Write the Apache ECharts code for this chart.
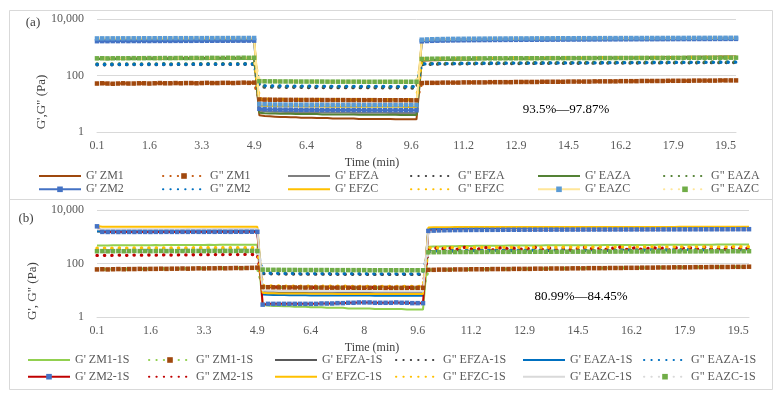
<!DOCTYPE html>
<html lang="en">
<head>
    <meta charset="UTF-8">
    <title>G' / G" recovery</title>
    <script src="https://cdn.jsdelivr.net/npm/echarts@6/dist/echarts.min.js"></script>
    <style>
        html, body { margin: 0; padding: 0; background: #fff; }
        #chart { width: 781px; height: 400px; }
    </style>
</head>
<body>
    <div id="chart"></div>

    <script>
        // 时间 (min) —— 类目轴
        const timeMin = [
            '0.1','0.3','0.4','0.6','0.7','0.9','1.0','1.2','1.3','1.5','1.6',
            '1.8','1.9','2.1','2.3','2.5','2.6','2.8','3.0','3.1','3.3',
            '3.5','3.6','3.8','3.9','4.1','4.3','4.4','4.6','4.7','4.9',
            '5.1','5.2','5.4','5.5','5.7','5.8','6.0','6.1','6.3','6.4',
            '6.6','6.7','6.9','7.0','7.2','7.4','7.5','7.7','7.8','8',
            '8.2','8.3','8.5','8.6','8.8','9.0','9.1','9.3','9.4','9.6',
            '9.8','9.9','10.1','10.2','10.4','10.6','10.7','10.9','11.0','11.2',
            '11.4','11.5','11.7','11.9','12.1','12.2','12.4','12.6','12.7','12.9',
            '13.1','13.2','13.4','13.5','13.7','13.9','14.0','14.2','14.3','14.5',
            '14.7','14.8','15.0','15.2','15.4','15.5','15.7','15.9','16.0','16.2',
            '16.4','16.5','16.7','16.9','17.1','17.2','17.4','17.6','17.7','17.9',
            '18.1','18.2','18.4','18.5','18.7','18.9','19.0','19.2','19.3','19.5',
            '19.7','19.8'
        ];

        // ---------- (a) ----------
        const gpZM1 = [
            395,398,400,402,401,404,405,403,406,408,407,409,410,411,410,412,413,412,414,415,414,416,417,416,418,419,418,420,421,420,422,
            3.9,3.7,3.6,3.5,3.4,3.4,3.3,3.3,3.2,3.2,3.2,3.1,3.1,3.1,3.0,3.0,3.0,3.0,3.0,2.9,2.9,2.9,2.9,2.9,2.9,2.9,2.8,2.8,2.8,2.8,2.8,
            330,338,344,350,355,359,363,366,369,372,375,377,380,382,384,386,388,390,392,394,396,398,400,402,404,406,408,410,412,414,
            416,418,420,422,424,426,428,430,432,434,436,438,440,442,444,446,448,450,452,454,455,457,458,460,461,463,464,466,467,469,470
        ];
        const gppZM1 = [
            52,53,52,51,52,53,52,52,53,53,52,53,54,53,53,54,53,54,54,53,54,55,54,54,55,55,54,55,56,55,56,
            14.2,14.0,13.9,13.8,13.8,13.7,13.7,13.7,13.6,13.6,13.6,13.6,13.5,13.5,13.5,13.5,13.5,13.4,13.4,13.4,13.4,13.4,13.4,13.3,13.3,13.3,13.3,13.3,13.3,13.2,13.2,
            54,55,55,55,56,56,56,56,57,57,57,57,57,58,58,58,58,58,59,59,59,59,59,60,60,60,60,60,61,61,
            61,61,61,62,62,62,62,62,63,63,63,63,64,64,64,64,64,65,65,65,65,65,66,66,66,66,66,67,67,67,67
        ];
        const gpEFZA = [
            1850,1840,1855,1850,1860,1855,1850,1860,1865,1860,1855,1865,1870,1860,1865,1870,1875,1870,1865,1875,1880,1875,1870,1880,1885,1880,1875,1885,1890,1885,1880,
            5.6,5.4,5.3,5.2,5.2,5.1,5.1,5.1,5.0,5.0,5.0,5.0,4.9,4.9,4.9,4.9,4.9,4.9,4.8,4.8,4.8,4.8,4.8,4.8,4.8,4.7,4.7,4.7,4.7,4.7,4.7,
            1650,1680,1700,1715,1725,1735,1745,1750,1760,1765,1770,1775,1780,1785,1790,1795,1800,1805,1808,1812,1815,1820,1825,1828,1832,1835,1840,1843,1846,1850,
            1853,1856,1860,1862,1865,1868,1870,1873,1876,1878,1880,1883,1885,1888,1890,1892,1895,1897,1900,1902,1904,1906,1908,1910,1912,1914,1916,1918,1920,1922,1924
        ];
        const gppEFZA = [
            240,242,238,241,243,240,242,244,241,243,245,242,244,246,243,245,247,244,246,248,245,247,249,246,248,250,247,249,251,248,250,
            40,39,39,38.5,38.5,38,38,38,38,37.5,37.5,37.5,37.5,37.5,37,37,37,37,37,37,37,37,36.5,36.5,36.5,36.5,36.5,36.5,36.5,36,36,
            245,248,250,252,254,255,256,257,258,259,260,261,262,262,263,264,264,265,266,266,267,267,268,268,269,269,270,270,271,271,
            272,272,273,273,274,274,275,275,276,276,277,277,278,278,279,279,280,280,281,281,282,282,283,283,284,284,285,285,286,286,287
        ];
        const gpEAZA = [
            380,382,378,381,383,380,384,382,385,383,386,384,387,385,388,386,389,387,390,388,391,389,392,390,393,391,394,392,395,393,396,
            4.8,4.6,4.5,4.5,4.4,4.4,4.4,4.3,4.3,4.3,4.3,4.3,4.2,4.2,4.2,4.2,4.2,4.2,4.2,4.1,4.1,4.1,4.1,4.1,4.1,4.1,4.1,4.0,4.0,4.0,4.0,
            350,356,360,364,367,369,371,373,375,377,378,380,381,383,384,385,386,388,389,390,391,392,393,394,395,396,397,398,399,400,
            401,402,403,404,405,406,407,408,409,410,411,412,413,414,415,416,417,418,419,420,421,422,423,424,425,426,427,428,429,430,431
        ];
        const gppEAZA = [
            255,257,253,256,258,255,257,259,256,258,260,257,259,261,258,260,262,259,261,263,260,262,264,261,263,265,262,264,266,263,265,
            43,42.5,42,42,42,41.5,41.5,41.5,41.5,41,41,41,41,41,41,40.5,40.5,40.5,40.5,40.5,40.5,40.5,40,40,40,40,40,40,40,40,40,
            262,265,267,269,270,271,272,273,274,275,276,277,278,278,279,280,280,281,282,282,283,283,284,284,285,285,286,286,287,287,
            288,288,289,289,290,290,291,291,292,292,293,293,294,294,295,295,296,296,297,297,298,298,299,299,300,300,301,301,302,302,303
        ];
        const gpZM2 = [
            1640,1650,1645,1655,1650,1660,1655,1665,1660,1670,1665,1675,1670,1680,1675,1685,1680,1690,1685,1695,1690,1700,1695,1705,1700,1710,1705,1715,1710,1720,1715,
            6.6,6.4,6.3,6.3,6.2,6.2,6.2,6.1,6.1,6.1,6.1,6.1,6.0,6.0,6.0,6.0,6.0,6.0,6.0,6.0,5.9,5.9,5.9,5.9,5.9,5.9,5.9,5.9,5.9,5.9,5.9,
            1620,1660,1690,1710,1725,1740,1750,1760,1770,1778,1785,1792,1798,1804,1810,1815,1820,1825,1830,1835,1840,1844,1848,1852,1856,1860,1864,1868,1872,1876,
            1880,1884,1888,1892,1896,1900,1904,1908,1912,1916,1920,1923,1926,1929,1932,1935,1938,1941,1944,1947,1950,1953,1956,1959,1962,1965,1968,1971,1974,1977,1980
        ];
        const gppZM2 = [
            245,247,243,246,248,245,247,249,246,248,250,247,249,251,248,250,252,249,251,253,250,252,254,251,253,255,252,254,256,253,255,
            44,43,43,42.5,42.5,42,42,42,42,42,41.5,41.5,41.5,41.5,41.5,41.5,41,41,41,41,41,41,41,41,41,40.5,40.5,40.5,40.5,40.5,40.5,
            255,258,260,262,263,264,265,266,267,268,269,270,271,271,272,273,273,274,275,275,276,276,277,277,278,278,279,279,280,280,
            281,281,282,282,283,283,284,284,285,285,286,286,287,287,288,288,289,289,290,290,291,291,292,292,293,293,294,294,295,295,296
        ];
        const gpEFZC = [
            1950,1945,1955,1950,1960,1955,1965,1960,1970,1965,1975,1970,1980,1975,1985,1980,1990,1985,1995,1990,2000,1995,2005,2000,2010,2005,2015,2010,2020,2015,2025,
            8.6,8.4,8.3,8.2,8.2,8.1,8.1,8.1,8.0,8.0,8.0,8.0,8.0,7.9,7.9,7.9,7.9,7.9,7.9,7.9,7.8,7.8,7.8,7.8,7.8,7.8,7.8,7.8,7.7,7.7,7.7,
            1780,1820,1850,1870,1885,1898,1908,1917,1925,1932,1938,1944,1950,1955,1960,1965,1970,1974,1978,1982,1986,1990,1994,1998,2002,2005,2008,2011,2014,2017,
            2020,2023,2026,2029,2032,2035,2038,2041,2044,2047,2050,2052,2054,2056,2058,2060,2062,2064,2066,2068,2070,2072,2074,2076,2078,2080,2082,2084,2086,2088,2090
        ];
        const gppEFZC = [
            400,402,398,401,403,400,404,402,405,403,406,404,407,405,408,406,409,407,410,408,411,409,412,410,413,411,414,412,415,413,416,
            14.8,14.6,14.5,14.4,14.4,14.3,14.3,14.3,14.2,14.2,14.2,14.2,14.1,14.1,14.1,14.1,14.1,14.0,14.0,14.0,14.0,14.0,14.0,14.0,13.9,13.9,13.9,13.9,13.9,13.9,13.9,
            385,390,394,397,399,401,403,405,406,408,409,410,411,412,413,414,415,416,417,418,419,420,420,421,422,422,423,424,424,425,
            426,426,427,428,428,429,430,430,431,432,432,433,434,434,435,436,436,437,438,438,439,440,440,441,442,442,443,444,444,445,446
        ];
        const gpEAZC = [
            2050,2060,2055,2065,2060,2070,2065,2075,2070,2080,2075,2085,2080,2090,2085,2095,2090,2100,2095,2105,2100,2110,2105,2115,2110,2120,2115,2125,2120,2130,2125,
            9.8,9.6,9.5,9.4,9.4,9.3,9.3,9.3,9.2,9.2,9.2,9.2,9.2,9.1,9.1,9.1,9.1,9.1,9.1,9.1,9.0,9.0,9.0,9.0,9.0,9.0,9.0,9.0,9.0,9.0,9.0,
            1850,1890,1920,1940,1955,1968,1978,1987,1995,2002,2008,2014,2020,2025,2030,2035,2040,2044,2048,2052,2056,2060,2064,2068,2072,2075,2078,2081,2084,2087,
            2090,2093,2096,2099,2102,2105,2108,2111,2114,2117,2120,2122,2124,2126,2128,2130,2132,2134,2136,2138,2140,2142,2144,2146,2148,2150,2152,2154,2156,2158,2160
        ];
        const gppEAZC = [
            405,408,404,407,410,406,409,412,408,411,414,410,413,416,412,415,418,414,417,420,416,419,422,418,421,424,420,423,426,422,425,
            63,62.5,62,62,61.5,61.5,61.5,61,61,61,61,61,61,60.5,60.5,60.5,60.5,60.5,60.5,60.5,60,60,60,60,60,60,60,60,60,60,60,
            385,389,392,394,396,397,398,399,400,401,402,403,403,404,405,405,406,406,407,407,408,408,409,409,410,410,411,411,412,412,
            413,413,414,414,415,415,416,416,417,417,418,418,419,419,420,420,421,421,422,422,423,423,424,424,425,425,426,426,427,427,428
        ];

        // ---------- (b) ----------
        const gpZM1_1S = [
            470,475,472,478,476,480,478,483,481,485,483,487,485,489,487,491,489,493,491,495,493,497,495,499,497,501,499,503,501,505,503,
            2.8,2.7,2.6,2.6,2.5,2.5,2.4,2.4,2.4,2.3,2.3,2.3,2.2,2.2,2.2,2.2,2.1,2.1,2.1,2.1,2.1,2.0,2.0,2.0,2.0,2.0,2.0,1.9,1.9,1.9,1.9,
            420,428,434,439,443,446,449,452,454,456,458,460,462,464,465,467,468,470,471,472,474,475,476,477,478,479,480,481,482,483,
            484,485,486,487,488,489,490,491,492,493,494,495,496,497,498,499,500,501,502,503,504,505,506,507,508,509,510,511,512,513,514
        ];
        const gppZM1_1S = [
            60,61,60,61,62,61,62,62,63,62,63,63,64,63,64,64,65,64,65,66,65,66,66,67,66,67,68,67,68,69,70,
            13.2,13.0,12.9,12.8,12.8,12.7,12.7,12.7,12.6,12.6,12.6,12.6,12.5,12.5,12.5,12.5,12.5,12.4,12.4,12.4,12.4,12.4,12.4,12.3,12.3,12.3,12.3,12.3,12.3,12.3,12.3,
            58,58,59,59,59,60,60,60,61,61,61,61,62,62,62,62,63,63,63,63,64,64,64,65,65,65,65,66,66,66,
            67,67,67,67,68,68,68,69,69,69,70,70,70,71,71,71,72,72,72,72,73,73,73,74,74,74,74,75,75,75,76
        ];
        const gpEFZA_1S = [
            1560,1550,1555,1545,1550,1555,1550,1560,1555,1550,1560,1555,1565,1560,1555,1565,1560,1570,1565,1560,1570,1565,1575,1570,1565,1575,1570,1580,1575,1570,1580,
            9.0,8.8,8.7,8.6,8.6,8.5,8.5,8.5,8.5,8.4,8.4,8.4,8.4,8.4,8.3,8.3,8.3,8.3,8.3,8.3,8.3,8.2,8.2,8.2,8.2,8.2,8.2,8.2,8.2,8.2,8.2,
            1800,1830,1850,1865,1875,1883,1890,1896,1900,1905,1908,1912,1915,1918,1921,1924,1926,1929,1931,1934,1936,1938,1940,1942,1944,1946,1948,1950,1952,1954,
            1956,1958,1960,1961,1963,1964,1966,1967,1969,1970,1972,1973,1975,1976,1978,1979,1981,1982,1984,1985,1987,1988,1990,1991,1993,1994,1996,1997,1999,2000,2002
        ];
        const gppEFZA_1S = [
            285,288,284,287,290,286,289,292,288,291,294,290,293,296,292,295,298,294,297,300,296,299,302,298,301,304,300,303,306,302,305,
            42,41.5,41,41,40.5,40.5,40.5,40,40,40,40,40,40,39.5,39.5,39.5,39.5,39.5,39.5,39.5,39,39,39,39,39,39,39,39,39,39,39,
            285,288,290,292,293,294,295,296,297,298,299,300,300,301,302,302,303,303,304,304,305,305,306,306,307,307,308,308,309,309,
            310,310,311,311,312,312,313,313,314,314,315,315,316,316,317,317,318,318,319,319,320,320,321,321,322,322,323,323,324,324,325
        ];
        const gpEAZA_1S = [
            1620,1610,1615,1605,1610,1615,1610,1620,1615,1610,1620,1615,1625,1620,1615,1625,1620,1630,1625,1620,1630,1625,1635,1630,1625,1635,1630,1640,1635,1630,1640,
            7.0,6.8,6.7,6.6,6.6,6.5,6.5,6.5,6.5,6.4,6.4,6.4,6.4,6.4,6.3,6.3,6.3,6.3,6.3,6.3,6.3,6.2,6.2,6.2,6.2,6.2,6.2,6.2,6.2,6.2,6.2,
            1950,1975,1990,2000,2008,2014,2019,2023,2027,2030,2033,2036,2038,2040,2042,2044,2046,2048,2050,2052,2053,2055,2056,2058,2059,2060,2062,2063,2064,2066,
            2067,2068,2069,2070,2072,2073,2074,2075,2076,2077,2078,2079,2080,2081,2082,2083,2084,2085,2086,2087,2088,2089,2090,2091,2092,2093,2094,2095,2096,2097,2098
        ];
        const gppEAZA_1S = [
            325,328,324,327,330,326,329,332,328,331,334,330,333,336,332,335,338,334,337,340,336,339,342,338,341,344,340,343,346,342,345,
            44,43.5,43,43,42.5,42.5,42.5,42,42,42,42,42,42,41.5,41.5,41.5,41.5,41.5,41.5,41.5,41,41,41,41,41,41,41,41,41,41,41,
            300,303,305,307,308,309,310,311,312,313,314,315,315,316,317,317,318,318,319,319,320,320,321,321,322,322,323,323,324,324,
            325,325,326,326,327,327,328,328,329,329,330,330,331,331,332,332,333,333,334,334,335,335,336,336,337,337,338,338,339,339,340
        ];
        const gpZM2_1S = [
            2450,1520,1510,1515,1505,1510,1515,1510,1520,1515,1510,1520,1515,1525,1520,1515,1525,1520,1530,1525,1520,1530,1525,1535,1530,1525,1535,1530,1540,1535,1530,
            2.9,3.1,3.1,3.1,3.1,3.1,3.1,3.1,3.1,3.1,3.1,3.2,3.2,3.2,3.3,3.3,3.4,3.4,3.5,3.5,3.5,3.4,3.4,3.4,3.4,3.5,3.4,3.4,3.3,3.3,3.3,
            1650,1700,1730,1750,1765,1775,1783,1790,1796,1801,1806,1810,1814,1818,1821,1824,1827,1830,1833,1836,1838,1840,1842,1844,1846,1848,1850,1852,1854,1856,
            1858,1860,1862,1864,1866,1868,1870,1872,1874,1876,1878,1880,1882,1884,1886,1888,1890,1892,1894,1896,1898,1900,1902,1904,1906,1908,1910,1912,1914,1916,1918
        ];
        const gppZM2_1S = [
            200,203,199,202,205,201,204,207,203,206,209,205,208,211,207,210,213,209,212,215,211,214,217,213,216,219,215,218,221,217,220,
            13.5,13.3,13.2,13.1,13.1,13.0,13.0,13.0,12.9,12.9,12.9,12.9,12.9,12.8,12.8,12.8,12.8,12.8,12.8,12.8,12.7,12.7,12.7,12.7,12.7,12.7,12.7,12.7,12.7,12.7,12.7,
            330,360,400,340,380,320,370,410,350,330,380,395,320,360,415,340,370,320,385,350,400,330,360,380,320,395,350,310,370,410,
            340,380,360,320,395,350,420,330,370,390,325,360,405,340,380,315,370,410,350,385,330,360,425,340,380,320,370,395,350,385,360
        ];
        const gpEFZC_1S = [
            2500,2380,2360,2350,2355,2345,2350,2360,2355,2350,2345,2355,2360,2350,2355,2345,2350,2360,2355,2350,2345,2355,2360,2350,2355,2345,2350,2360,2355,2350,2345,
            8.0,7.8,7.7,7.6,7.6,7.5,7.5,7.5,7.5,7.4,7.4,7.4,7.4,7.4,7.3,7.3,7.3,7.3,7.3,7.3,7.3,7.2,7.2,7.2,7.2,7.2,7.2,7.2,7.2,7.2,7.2,
            2200,2250,2270,2280,2285,2290,2292,2294,2296,2298,2300,2302,2304,2305,2306,2308,2309,2310,2311,2312,2313,2314,2315,2316,2317,2318,2319,2320,2321,2322,
            2323,2324,2325,2326,2327,2328,2329,2330,2331,2332,2333,2334,2335,2336,2337,2338,2339,2340,2341,2342,2343,2344,2345,2346,2347,2348,2349,2350,2351,2352,2353
        ];
        const gppEFZC_1S = [
            375,378,374,377,380,376,379,382,378,381,384,380,383,386,382,385,388,384,387,390,386,389,392,388,391,394,390,393,396,392,395,
            14.8,14.6,14.5,14.4,14.4,14.3,14.3,14.3,14.2,14.2,14.2,14.2,14.1,14.1,14.1,14.1,14.1,14.0,14.0,14.0,14.0,14.0,14.0,14.0,13.9,13.9,13.9,13.9,13.9,13.9,13.9,
            380,385,388,390,392,393,394,395,396,397,398,399,399,400,401,401,402,402,403,403,404,404,405,405,406,406,407,407,408,408,
            409,409,410,410,411,411,412,412,413,413,414,414,415,415,416,416,417,417,418,418,419,419,420,420,421,421,422,422,423,423,424
        ];
        const gpEAZC_1S = [
            1920,1910,1915,1905,1910,1915,1910,1920,1915,1910,1920,1915,1925,1920,1915,1925,1920,1930,1925,1920,1930,1925,1935,1930,1925,1935,1930,1940,1935,1930,1940,
            9.8,9.6,9.5,9.4,9.4,9.3,9.3,9.3,9.3,9.2,9.2,9.2,9.2,9.2,9.1,9.1,9.1,9.1,9.1,9.1,9.1,9.0,9.0,9.0,9.0,9.0,9.0,9.0,9.0,9.0,9.0,
            1550,1580,1610,1640,1665,1690,1710,1730,1745,1760,1772,1784,1795,1805,1814,1822,1830,1837,1844,1850,1856,1861,1866,1871,1875,1879,1883,1887,1890,1893,
            1896,1899,1902,1905,1907,1909,1911,1913,1915,1917,1919,1921,1923,1925,1927,1929,1931,1933,1935,1937,1939,1941,1943,1945,1947,1949,1951,1953,1955,1957,1959
        ];
        const gppEAZC_1S = [
            288,290,286,289,292,288,291,294,290,293,289,292,295,291,294,290,293,296,292,295,291,294,297,293,296,292,295,298,294,297,293,
            59,58.5,58,58,57.5,57.5,57.5,57,57,57,57,57,57,56.5,56.5,56.5,56.5,56.5,56.5,56.5,56,56,56,56,56,56,56,56,56,56,56,
            262,264,266,267,268,268,269,269,270,270,271,271,272,272,272,273,273,273,274,274,274,275,275,275,276,276,276,277,277,277,
            278,278,278,279,279,279,280,280,280,281,281,281,282,282,282,283,283,283,284,284,284,285,285,285,286,286,286,287,287,287,288
        ];

        // 系列样式：[名称, 数据, 线色, 线型, 标记色]
        const seriesA = [
            ["G' ZM1", gpZM1, '#9E480E', 'solid', null],
            ['G" ZM1', gppZM1, '#C55A11', 'dot', '#A0480E'],
            ["G' EFZA", gpEFZA, '#7F7F7F', 'solid', null],
            ['G" EFZA', gppEFZA, '#404040', 'dot', null],
            ["G' EAZA", gpEAZA, '#548235', 'solid', null],
            ['G" EAZA', gppEAZA, '#548235', 'dot', null],
            ["G' ZM2", gpZM2, '#4472C4', 'solid', '#4472C4'],
            ['G" ZM2', gppZM2, '#0070C0', 'dot', null],
            ["G' EFZC", gpEFZC, '#FFC000', 'solid', null],
            ['G" EFZC', gppEFZC, '#FFC000', 'dot', null],
            ["G' EAZC", gpEAZC, '#FFE699', 'solid', '#5B9BD5'],
            ['G" EAZC', gppEAZC, '#FFE699', 'dot', '#70AD47']
        ];
        const seriesB = [
            ["G' ZM1-1S", gpZM1_1S, '#92D050', 'solid', null],
            ['G" ZM1-1S', gppZM1_1S, '#92D050', 'dot', '#A0480E'],
            ["G' EFZA-1S", gpEFZA_1S, '#595959', 'solid', null],
            ['G" EFZA-1S', gppEFZA_1S, '#404040', 'dot', null],
            ["G' EAZA-1S", gpEAZA_1S, '#0070C0', 'solid', null],
            ['G" EAZA-1S', gppEAZA_1S, '#0070C0', 'dot', null],
            ["G' ZM2-1S", gpZM2_1S, '#C00000', 'solid', '#4472C4'],
            ['G" ZM2-1S', gppZM2_1S, '#C00000', 'dot', null],
            ["G' EFZC-1S", gpEFZC_1S, '#FFC000', 'solid', null],
            ['G" EFZC-1S', gppEFZC_1S, '#FFC000', 'dot', null],
            ["G' EAZC-1S", gpEAZC_1S, '#D9D9D9', 'solid', null],
            ['G" EAZC-1S', gppEAZC_1S, '#D9D9D9', 'dot', '#70AD47']
        ];

        const FONT = '"Liberation Serif", "Times New Roman", serif';
        const GRID_COLOR = '#D9D9D9';
        const TEXT_COLOR = '#595959';

        function makeSeries(list, axisIndex) {
            return list.map(([name, data, color, style, marker]) => ({
                name: name,
                type: 'line',
                xAxisIndex: axisIndex,
                yAxisIndex: axisIndex,
                data: data,
                symbol: marker ? 'rect' : 'none',
                symbolSize: 4.5,
                showAllSymbol: true,
                itemStyle: { color: marker || color },
                lineStyle: style === 'dot'
                    ? { color: color, width: 3.3, type: [0.3, 7.1], cap: 'round' }
                    : { color: color, width: 2 },
                emphasis: { disabled: true }
            }));
        }

        // 图例：每列一个竖排图例（两行）
        function makeLegends(list, lefts, top, gap) {
            const legends = [];
            for (let c = 0; c < 6; c++) {
                legends.push({
                    orient: 'vertical',
                    left: lefts[c],
                    top: top,
                    padding: 0,
                    itemGap: gap,
                    itemWidth: 42,
                    itemHeight: 7,
                    selectedMode: false,
                    textStyle: { fontFamily: FONT, fontSize: 12, color: TEXT_COLOR, lineHeight: 12 },
                    data: [list[c], list[c + 6]].map(s => ({
                        name: s[0],
                        itemStyle: s[4] ? {} : { opacity: 0 }
                    }))
                });
            }
            return legends;
        }

        function xAxisCfg(gridIndex) {
            return {
                type: 'category',
                gridIndex: gridIndex,
                data: timeMin,
                boundaryGap: false,
                axisLine: { lineStyle: { color: GRID_COLOR } },
                axisTick: { show: false },
                axisLabel: { interval: 9, margin: 8, color: TEXT_COLOR, fontFamily: FONT, fontSize: 12 },
                splitLine: { show: false }
            };
        }

        function yAxisCfg(gridIndex) {
            return {
                type: 'log',
                gridIndex: gridIndex,
                logBase: 100,
                min: 1,
                max: 10000,
                axisLine: { show: false },
                axisTick: { show: false },
                axisLabel: {
                    margin: 13,
                    color: TEXT_COLOR,
                    fontFamily: FONT,
                    fontSize: 12,
                    formatter: v => Math.round(v).toLocaleString('en-US')
                },
                splitLine: { lineStyle: { color: GRID_COLOR } }
            };
        }

        function label(text, x, y, size, fill, extra) {
            return Object.assign({
                type: 'text',
                x: x,
                y: y,
                style: {
                    text: text,
                    font: size + 'px ' + FONT,
                    fill: fill || '#404040',
                    textAlign: 'center',
                    textVerticalAlign: 'middle'
                }
            }, extra || {});
        }

        const chart = echarts.init(document.getElementById('chart'), null, { renderer: 'canvas' });

        chart.setOption({
            animation: false,
            backgroundColor: '#fff',
            grid: [
                { left: 97, top: 19, width: 639, height: 113 },
                { left: 97, top: 210, width: 652, height: 107 }
            ],
            xAxis: [xAxisCfg(0), xAxisCfg(1)],
            yAxis: [yAxisCfg(0), yAxisCfg(1)],
            legend: makeLegends(seriesA, [38, 162, 287, 410, 537, 663], 170, 1.3)
                .concat(makeLegends(seriesB, [27, 148, 274, 395, 522, 643], 354, 4.7)),
            series: makeSeries(seriesA, 0).concat(makeSeries(seriesB, 1)),
            graphic: [
                { type: 'rect', shape: { x: 9.5, y: 10.5, width: 763, height: 189 },
                  style: { fill: 'none', stroke: GRID_COLOR, lineWidth: 1 }, silent: true },
                { type: 'rect', shape: { x: 9.5, y: 199.5, width: 763, height: 190 },
                  style: { fill: 'none', stroke: GRID_COLOR, lineWidth: 1 }, silent: true },
                label('(a)', 33, 23, 13),
                label('(b)', 26, 219, 13),
                label('G\',G" (Pa)', 42, 102, 13, null, { rotation: Math.PI / 2 }),
                label('G\', G" (Pa)', 33, 291, 13, null, { rotation: Math.PI / 2 }),
                label('Time (min)', 372, 163, 12),
                label('Time (min)', 372, 348, 12),
                label('93.5%—97.87%', 566, 110, 13, '#000'),
                label('80.99%—84.45%', 581, 297, 13, '#000')
            ]
        });
    </script>
</body>
</html>
